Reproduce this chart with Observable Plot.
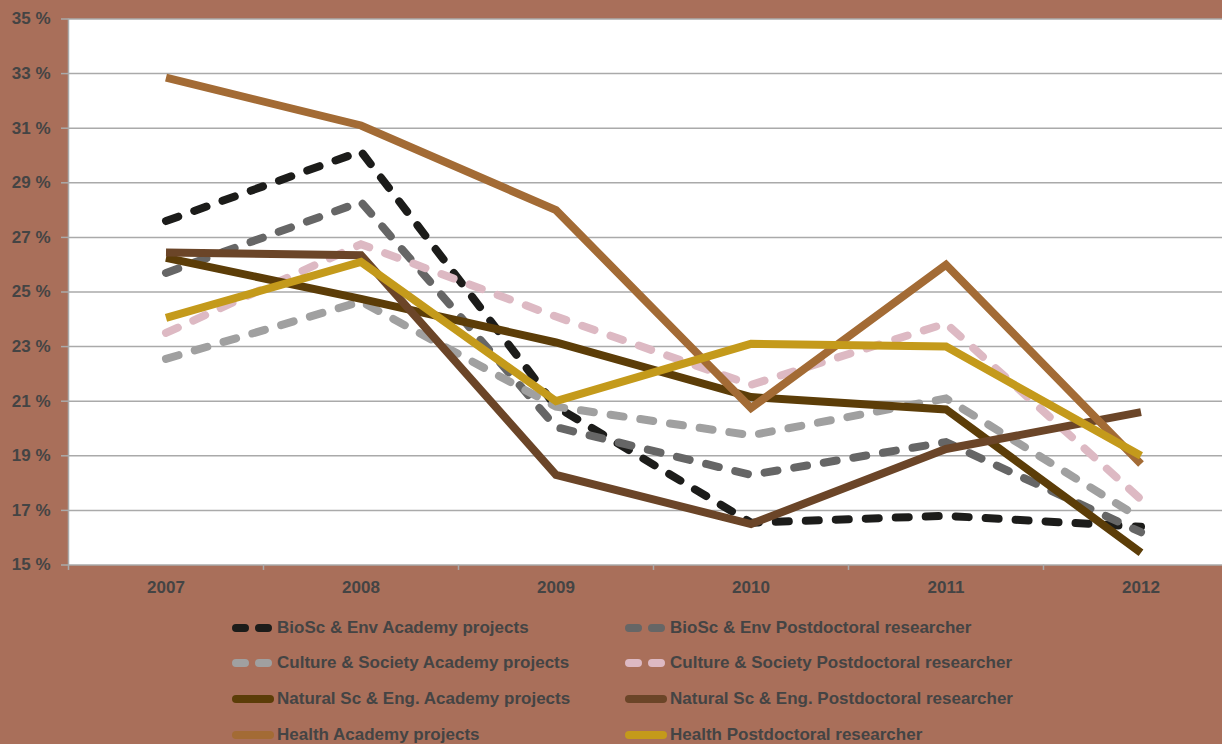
<!DOCTYPE html>
<html>
<head>
<meta charset="utf-8">
<script src="https://cdn.jsdelivr.net/npm/d3@7"></script>
<script src="https://cdn.jsdelivr.net/npm/@observablehq/plot@0.6"></script>
<style>
  html, body { margin: 0; padding: 0; }
  body { width: 1222px; height: 744px; overflow: hidden; background: #a96f5a; position: relative;
         font-family: "Liberation Sans", Arial, Helvetica, sans-serif; }
  #chart { position: absolute; left: 0; top: 0; width: 1240px; }
  #chart svg { max-width: none !important; }
  #chart svg [aria-label^="y-axis"] line, #chart svg [aria-label^="y-axis"] path { stroke: #aaaaaa; stroke-width: 1.5; }
  #chart svg [aria-label^="y-axis"] text, #chart svg [aria-label^="x-axis"] text { fill: #444444; }
  #legend { position: absolute; left: 0; top: 0; width: 1222px; height: 744px; pointer-events: none; }
  .item { position: absolute; display: flex; align-items: center; font-weight: bold; font-size: 17px; color: #444444; white-space: nowrap; }
  .item svg { margin-right: 3px; }
</style>
</head>
<body>
<div id="chart"></div>
<div id="legend"></div>
<script>
// ---- data ----
const years = ["2007", "2008", "2009", "2010", "2011", "2012"];
const yTicks = [15, 17, 19, 21, 23, 25, 27, 29, 31, 33, 35];
const seriesNames = [
  "BioSc & Env Academy projects",
  "BioSc & Env Postdoctoral researcher",
  "Culture & Society Academy projects",
  "Culture & Society Postdoctoral researcher",
  "Natural Sc & Eng. Academy projects",
  "Natural Sc & Eng. Postdoctoral researcher",
  "Health Academy projects",
  "Health Postdoctoral researcher"
];
const bioscAcademy     = [27.6, 30.15, 20.8, 16.55, 16.8, 16.4];
const bioscPostdoc     = [25.7, 28.3, 20.05, 18.3, 19.5, 16.2];
const cultureAcademy   = [22.55, 24.65, 20.8, 19.75, 21.1, 16.7];
const culturePostdoc   = [23.5, 26.75, 24.1, 21.6, 23.85, 17.4];
const naturalAcademy   = [26.25, 24.75, 23.15, 21.15, 20.7, 15.45];
const naturalPostdoc   = [26.45, 26.35, 18.3, 16.5, 19.25, 20.6];
const healthAcademy    = [32.85, 31.1, 28.0, 20.75, 26.0, 18.7];
const healthPostdoc    = [24.05, 26.1, 21.0, 23.1, 23.0, 19.0];
const seriesValues = [bioscAcademy, bioscPostdoc, cultureAcademy, culturePostdoc,
                      naturalAcademy, naturalPostdoc, healthAcademy, healthPostdoc];

// ---- styles ----
const seriesColors = ["#1c1c1a", "#666666", "#a0a0a0", "#ddb9c3", "#5c3d08", "#6b4528", "#a36b35", "#c49a1b"];
const seriesDashed = [true, true, true, true, false, false, false, false];

const rows = [];
seriesNames.forEach((name, s) => {
  seriesValues[s].forEach((v, i) => rows.push({series: name, idx: i, year: years[i], value: v}));
});
const boundaries = d3.range(years.length + 1).map(i => i - 0.5);

const lineMarks = seriesNames.map((name, s) =>
  Plot.line(rows.filter(r => r.series === name), {
    x: "idx", y: "value",
    stroke: seriesColors[s], strokeWidth: 8,
    strokeDasharray: seriesDashed[s] ? "13,17" : null,
    strokeLinecap: seriesDashed[s] ? "round" : "butt",
    strokeLinejoin: "miter", strokeMiterlimit: 10
  })
);

const chart = Plot.plot({
  width: 1240, height: 600,
  marginLeft: 68, marginRight: 2, marginTop: 18.5, marginBottom: 35.5,
  style: {background: "transparent", fontFamily: "'Liberation Sans', Arial, sans-serif", fontWeight: "bold", fontSize: "17px", color: "#444444", overflow: "visible", maxWidth: "none"},
  x: {type: "linear", domain: [-0.5, years.length - 0.5], ticks: d3.range(years.length), tickFormat: i => years[i], tickSize: 0, tickPadding: 16, label: null},
  y: {domain: [15, 35], ticks: yTicks, tickFormat: d => d + " %", tickSize: 7, tickPadding: 11, label: null},
  marks: [
    Plot.frame({fill: "white", stroke: null}),
    Plot.ruleY(yTicks, {stroke: "#aaaaaa", strokeWidth: 1.5}),
    Plot.ruleX([boundaries[0]], {stroke: "#aaaaaa", strokeWidth: 1.5}),
    Plot.ruleX(boundaries, {y1: 15, y2: 14.8, stroke: "#aaaaaa", strokeWidth: 1.5}),
    ...lineMarks
  ]
});
document.getElementById("chart").appendChild(chart);

// ---- legend ----
const legend = document.getElementById("legend");
const colX = [232, 625];
const rowY = [628, 663, 699, 735];
seriesNames.forEach((name, s) => {
  const item = document.createElement("div");
  item.className = "item";
  item.style.left = colX[s % 2] + "px";
  item.style.top = (rowY[Math.floor(s / 2)] - 12) + "px";
  item.style.height = "24px";
  const dash = seriesDashed[s] ? `stroke-dasharray="9,14" stroke-linecap="round"` : `stroke-linecap="round"`;
  item.innerHTML = `<svg width="42" height="24"><line x1="4" x2="38" y1="12" y2="12" stroke="${seriesColors[s]}" stroke-width="8" ${dash}/></svg><span>${name}</span>`;
  legend.appendChild(item);
});
</script>
</body>
</html>
